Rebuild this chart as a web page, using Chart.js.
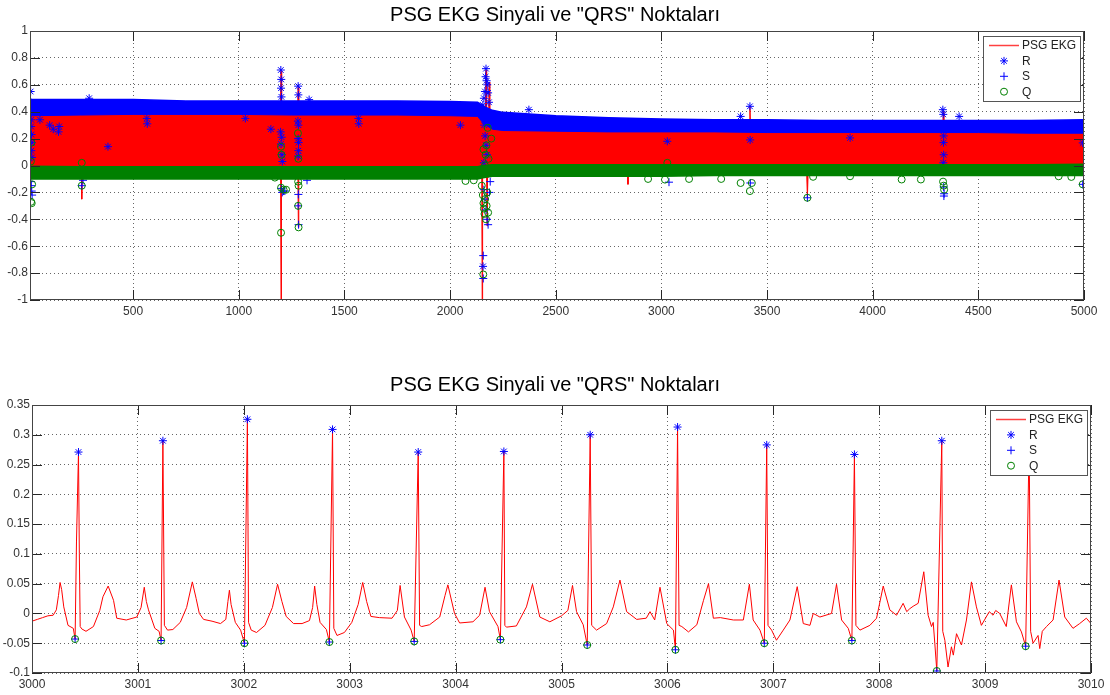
<!doctype html>
<html>
<head>
<meta charset="utf-8" />
<title>PSG EKG Sinyali ve "QRS" Noktaları</title>
<script src="https://cdn.jsdelivr.net/npm/chart.js"></script>
<style>
  html, body { margin: 0; padding: 0; background: #fff; }
  #wrap { position: relative; width: 1110px; height: 695px; }
  #topBox { position: absolute; left: 0; top: 0; width: 1110px; height: 347px; }
  #botBox { position: absolute; left: 0; top: 347px; width: 1110px; height: 348px; }
</style>
</head>
<body>
<div id="wrap">
  <div id="topBox"><canvas id="topChart" width="1110" height="347"></canvas></div>
  <div id="botBox"><canvas id="botChart" width="1110" height="348"></canvas></div>
</div>

<script>
  const chartTitle = 'PSG EKG Sinyali ve "QRS" Noktaları';
  const legendNames = ['PSG EKG', 'R', 'S', 'Q'];

  const topXTicks = [500, 1000, 1500, 2000, 2500, 3000, 3500, 4000, 4500, 5000];
  const topYTicks = [-1, -0.8, -0.6, -0.4, -0.2, 0, 0.2, 0.4, 0.6, 0.8, 1];
  const botXTicks = [3000, 3001, 3002, 3003, 3004, 3005, 3006, 3007, 3008, 3009, 3010];
  const botYTicks = [-0.1, -0.05, 0, 0.05, 0.1, 0.15, 0.2, 0.25, 0.3, 0.35];

  // ---- ust grafik: tum kayit (zarf degerleri) ----
  const bandX    = [12, 250, 500, 750, 1000, 1250, 1500, 1750, 2000, 2130, 2160, 2200, 2250, 2500, 2750, 3000, 3250, 3500, 3750, 4000, 4250, 4500, 4750, 5000];
  const rBandHi  = [0.49, 0.49, 0.49, 0.48, 0.48, 0.48, 0.48, 0.48, 0.475, 0.47, 0.44, 0.41, 0.395, 0.37, 0.355, 0.345, 0.34, 0.34, 0.335, 0.335, 0.335, 0.335, 0.335, 0.34];
  const rBandLo  = [0.37, 0.375, 0.38, 0.38, 0.38, 0.375, 0.375, 0.375, 0.37, 0.365, 0.31, 0.27, 0.26, 0.255, 0.25, 0.25, 0.25, 0.245, 0.245, 0.245, 0.245, 0.245, 0.24, 0.24];
  const qBandHi  = [-0.005, -0.01, -0.01, -0.01, -0.01, -0.01, -0.01, -0.01, -0.01, -0.01, 0.0, 0.005, 0.005, 0.005, 0.005, 0.005, 0.005, 0.005, 0.005, 0.005, 0.005, 0.005, 0.005, 0.01];
  const qBandLo  = [-0.10, -0.10, -0.10, -0.10, -0.10, -0.10, -0.10, -0.10, -0.10, -0.10, -0.09, -0.08, -0.08, -0.08, -0.08, -0.08, -0.075, -0.075, -0.075, -0.075, -0.075, -0.075, -0.075, -0.075];

  const sigHiX = [12, 1197, 1200, 1203, 1278, 1281, 1284, 2130, 2160, 2167, 2170, 2173, 2182, 2185, 2188, 2200, 2250, 3416, 3419, 3422, 4331, 4334, 4337, 5000];
  const sigHiY = [0.39, 0.39, 0.70, 0.39, 0.39, 0.58, 0.39, 0.385, 0.33, 0.33, 0.71, 0.30, 0.29, 0.62, 0.28, 0.28, 0.27, 0.26, 0.44, 0.26, 0.26, 0.40, 0.26, 0.255];
  const sigLoX = [12, 255, 257, 259, 1198, 1200, 1202, 1280, 1282, 1284, 2150, 2152, 2154, 2173, 2175, 2177, 2200, 2840, 2842, 2844, 3688, 3691, 3694, 5000];
  const sigLoY = [-0.09, -0.09, -0.25, -0.09, -0.09, -1, -0.09, -0.09, -0.46, -0.09, -0.09, -1, -0.09, -0.09, -0.45, -0.09, -0.07, -0.07, -0.14, -0.07, -0.07, -0.24, -0.07, -0.07];

  const rOutX = [15, 16, 17, 18, 17, 19, 20, 18, 21, 59, 105, 122, 147, 150, 292, 381, 565, 567, 1031, 1152,
                 1199, 1201, 1200, 1202, 1198, 1203, 1200, 1204, 1206,
                 1281, 1282, 1280, 1282, 1281, 1283, 1282, 1281, 1333, 1566, 1568, 2049,
                 2155, 2160, 2165, 2168, 2170, 2173, 2176, 2180, 2184, 2158, 2162, 2166, 2170, 2175, 2160, 2178, 2156,
                 2373, 2530, 3028, 3375, 3419, 3420, 3893, 4332, 4334, 4336, 4335, 4336, 4334, 4409, 4994];
  const rOutY = [0.55, 0.47, 0.41, 0.34, 0.29, 0.23, 0.17, 0.11, 0.06, 0.34, 0.30, 0.27, 0.25, 0.29, 0.50, 0.14, 0.35, 0.31, 0.35, 0.27,
                 0.71, 0.64, 0.575, 0.51, 0.25, 0.21, 0.16, 0.08, 0.03,
                 0.59, 0.525, 0.33, 0.30, 0.20, 0.17, 0.11, 0.07, 0.49, 0.35, 0.31, 0.30,
                 0.45, 0.50, 0.55, 0.66, 0.72, 0.63, 0.60, 0.54, 0.47, 0.36, 0.30, 0.22, 0.15, 0.08, 0.02, -0.05, -0.75,
                 0.415, 0.31, 0.18, 0.365, 0.44, 0.19, 0.205, 0.415, 0.38, 0.22, 0.17, 0.08, 0.02, 0.365, 0.168];

  const sOutX = [16, 18, 20, 22, 263, 257, 1201, 1206, 1212, 1218, 1282, 1281, 1283, 1323, 2157, 2157, 2165, 2170, 2175, 2180, 2160, 2186, 2190, 3036, 3421, 3691, 4336, 4338, 4337, 4994];
  const sOutY = [-0.12, -0.15, -0.19, -0.22, -0.11, -0.15, -0.17, -0.20, -0.19, -0.19, -0.215, -0.30, -0.44, -0.11, -0.67, -0.84, -0.25, -0.33, -0.40, -0.44, -0.18, -0.20, -0.12, -0.124, -0.13, -0.24, -0.16, -0.21, -0.227, -0.14];

  const qOutX = [17, 20, 16, 22, 19, 257, 257, 1171, 1200, 1202, 1200, 1200, 1212, 1224, 1280, 1282, 1281, 1283, 1281, 1283,
                 2073, 2112, 2150, 2155, 2158, 2160, 2163, 2166, 2170, 2173, 2176, 2180, 2165, 2168, 2172, 2178, 2182, 2188, 2195, 2158, 2157,
                 2937, 3017, 3028, 3131, 3283, 3375, 3419, 3428, 3691, 3718, 3893, 4137, 4228, 4333, 4336, 4338, 4880, 4940, 4994];
  const qOutY = [-0.27, -0.28, 0.03, -0.14, 0.17, -0.15, 0.02, -0.09, 0.14, 0.08, -0.165, -0.50, -0.18, -0.18, 0.24, 0.05, -0.12, -0.15, -0.30, -0.46,
                 -0.115, -0.11, -0.15, -0.22, -0.28, -0.32, -0.36, -0.25, -0.40, -0.30, -0.20, -0.35, 0.00, 0.08, 0.15, 0.28, 0.05, -0.05, 0.20, 0.12, -0.81,
                 -0.10, -0.105, 0.02, -0.10, -0.10, -0.13, -0.19, -0.13, -0.24, -0.084, -0.08, -0.104, -0.104, -0.12, -0.15, -0.18, -0.08, -0.085, -0.14];

  // ---- alt grafik: 3000-3010 araligi ----
  const ekgT = [3000.00, 3000.05, 3000.10, 3000.15, 3000.20, 3000.23, 3000.25, 3000.265, 3000.28, 3000.30, 3000.34, 3000.39, 3000.407, 3000.42, 3000.439, 3000.447, 3000.455, 3000.47, 3000.51, 3000.58, 3000.64, 3000.67, 3000.719, 3000.77, 3000.80, 3000.89, 3000.99,
    3001.03, 3001.06, 3001.08, 3001.10, 3001.16, 3001.20, 3001.219, 3001.236, 3001.25, 3001.28, 3001.33, 3001.40, 3001.46, 3001.514, 3001.55, 3001.58, 3001.62, 3001.70, 3001.78, 3001.83,
    3001.85, 3001.864, 3001.88, 3001.92, 3001.97, 3002.006, 3002.034, 3002.045, 3002.07, 3002.12, 3002.20, 3002.27, 3002.319, 3002.36, 3002.40, 3002.47, 3002.55, 3002.62, 3002.65,
    3002.669, 3002.69, 3002.72, 3002.78, 3002.808, 3002.838, 3002.85, 3002.88, 3002.95, 3003.02, 3003.08, 3003.123, 3003.16, 3003.20, 3003.28, 3003.40, 3003.45,
    3003.476, 3003.517, 3003.58, 3003.609, 3003.647, 3003.66, 3003.68, 3003.754, 3003.85, 3003.90, 3003.927, 3003.99, 3004.038, 3004.164, 3004.227,
    3004.278, 3004.32, 3004.40, 3004.423, 3004.456, 3004.465, 3004.48, 3004.574, 3004.669, 3004.726, 3004.795, 3004.89, 3005.00, 3005.06,
    3005.104, 3005.142, 3005.205, 3005.243, 3005.271, 3005.285, 3005.331, 3005.426, 3005.489, 3005.552, 3005.615, 3005.71, 3005.80, 3005.836, 3005.88,
    3005.93, 3005.994, 3006.057, 3006.076, 3006.096, 3006.11, 3006.136, 3006.199, 3006.278, 3006.341, 3006.388, 3006.434, 3006.50, 3006.623, 3006.717,
    3006.774, 3006.81, 3006.874, 3006.915, 3006.938, 3006.95, 3006.984, 3007.03, 3007.094, 3007.157, 3007.226, 3007.283, 3007.346, 3007.377, 3007.44, 3007.55,
    3007.597, 3007.645, 3007.708, 3007.742, 3007.766, 3007.78, 3007.818, 3007.912, 3007.975, 3008.038, 3008.10, 3008.164, 3008.226, 3008.26, 3008.289, 3008.32, 3008.368,
    3008.421, 3008.462, 3008.494, 3008.51, 3008.525, 3008.544, 3008.591, 3008.60, 3008.62, 3008.65, 3008.682, 3008.70, 3008.73, 3008.777, 3008.824, 3008.871, 3008.918, 3008.965, 3009.01, 3009.04, 3009.075, 3009.10, 3009.138, 3009.20,
    3009.248, 3009.296, 3009.343, 3009.383, 3009.416, 3009.43, 3009.453, 3009.50, 3009.516, 3009.54, 3009.58, 3009.642, 3009.698, 3009.752, 3009.83, 3009.893, 3009.956, 3010.00];
  const ekgV = [-0.013, -0.010, -0.007, -0.004, -0.003, 0.006, 0.030, 0.052, 0.040, 0.011, -0.020, -0.025, -0.043, 0.12, 0.271, 0.10, -0.022, -0.026, -0.030, -0.022, 0.005, 0.028, 0.046, 0.022, -0.008, -0.011, -0.006,
    0.010, 0.044, 0.020, 0.006, -0.025, -0.030, -0.0455, 0.290, -0.020, -0.028, -0.027, -0.015, 0.010, 0.053, 0.025, 0.000, -0.010, -0.013, -0.017, -0.010,
    0.020, 0.039, 0.015, -0.015, -0.028, -0.050, 0.326, -0.015, -0.028, -0.032, -0.020, 0.010, 0.049, 0.020, -0.005, -0.017, -0.017, -0.012, 0.010,
    0.046, 0.015, -0.015, -0.027, -0.048, 0.309, -0.025, -0.037, -0.032, -0.015, 0.015, 0.052, 0.020, -0.005, -0.007, -0.008, 0.005,
    0.047, -0.006, -0.028, -0.047, 0.271, -0.020, -0.022, -0.019, -0.006, 0.030, 0.048, 0.000, -0.016, -0.014, -0.003,
    0.044, 0.003, -0.022, -0.044, 0.272, -0.020, -0.023, -0.021, 0.011, 0.049, -0.006, -0.014, -0.004, 0.005,
    0.047, 0.003, -0.019, -0.053, 0.300, -0.020, -0.028, -0.017, 0.011, 0.056, 0.003, -0.010, -0.008, 0.003, -0.011,
    0.044, -0.017, -0.028, -0.061, 0.313, -0.020, -0.022, -0.031, -0.019, 0.022, 0.050, -0.008, -0.007, -0.011, -0.011,
    0.049, -0.011, -0.028, -0.050, 0.283, -0.020, -0.028, -0.045, -0.028, -0.011, 0.045, -0.017, -0.020, 0.000, -0.006, 0.000,
    0.049, -0.011, -0.025, -0.0455, 0.267, -0.020, -0.028, -0.020, -0.008, 0.046, 0.006, -0.003, 0.017, 0.003, 0.008, 0.012, 0.017,
    0.070, -0.003, -0.022, -0.015, -0.050, -0.0966, 0.290, -0.030, -0.045, -0.090, -0.056, -0.070, -0.034, -0.053, -0.011, 0.053, 0.011, -0.020, -0.006, 0.003, -0.003, 0.005, 0.000, -0.022,
    0.048, -0.014, -0.031, -0.055, 0.290, -0.030, -0.050, -0.037, -0.059, -0.030, -0.022, -0.011, 0.056, -0.006, -0.025, -0.017, -0.008, -0.017];

  const rT = [3000.439, 3001.236, 3002.034, 3002.838, 3003.647, 3004.456, 3005.271, 3006.096, 3006.938, 3007.766, 3008.591, 3009.416];
  const rV = [0.271, 0.290, 0.326, 0.309, 0.271, 0.272, 0.300, 0.313, 0.283, 0.267, 0.290, 0.290];
  const sT = [3000.407, 3001.219, 3002.006, 3002.808, 3003.609, 3004.423, 3005.243, 3006.076, 3006.915, 3007.742, 3008.544, 3009.383];
  const sV = [-0.043, -0.0455, -0.050, -0.048, -0.047, -0.044, -0.053, -0.061, -0.050, -0.0455, -0.0966, -0.055];
  const qT = [3000.407, 3001.219, 3002.006, 3002.808, 3003.609, 3004.423, 3005.243, 3006.076, 3006.915, 3007.742, 3008.544, 3009.383];
  const qV = [-0.043, -0.0455, -0.050, -0.048, -0.047, -0.044, -0.053, -0.061, -0.050, -0.0455, -0.0966, -0.055];

  const RED = '#ff0000', BLUE = '#0000ff', GREEN = '#008000';
  const FONT = '"Liberation Sans", Arial, sans-serif';

  function pts(xs, ys) { return xs.map((x, i) => ({ x: x, y: ys[i] })); }

  function drawMark(ctx, kind, cx, cy, r) {
    ctx.beginPath();
    if (kind === 'circle') {
      ctx.arc(cx, cy, r, 0, Math.PI * 2);
    } else {
      ctx.moveTo(cx - r, cy); ctx.lineTo(cx + r, cy);
      ctx.moveTo(cx, cy - r); ctx.lineTo(cx, cy + r);
      if (kind === 'star') {
        const d = r * 0.7;
        ctx.moveTo(cx - d, cy - d); ctx.lineTo(cx + d, cy + d);
        ctx.moveTo(cx - d, cy + d); ctx.lineTo(cx + d, cy - d);
      }
    }
    ctx.stroke();
  }

  // matlab tarzi cerceve, ice dogru tikler ve legend kutusu
  const matlabFrame = {
    id: 'matlabFrame',
    afterDatasetsDraw(chart) {
      const { ctx, chartArea: a, scales: { x, y } } = chart;
      const len = 10;
      ctx.save();
      ctx.strokeStyle = '#262626';
      ctx.lineWidth = 1;
      ctx.beginPath();
      x.ticks.forEach(t => {
        const px = Math.round(x.getPixelForValue(t.value)) + 0.5;
        ctx.moveTo(px, a.bottom); ctx.lineTo(px, a.bottom - len);
        ctx.moveTo(px, a.top); ctx.lineTo(px, a.top + len);
      });
      y.ticks.forEach(t => {
        const py = Math.round(y.getPixelForValue(t.value)) + 0.5;
        ctx.moveTo(a.left, py); ctx.lineTo(a.left + len, py);
        ctx.moveTo(a.right, py); ctx.lineTo(a.right - len, py);
      });
      ctx.stroke();
      ctx.strokeStyle = '#444';
      ctx.strokeRect(Math.round(a.left) + 0.5, Math.round(a.top) + 0.5, Math.round(a.width) - 1, Math.round(a.height) - 1);

      // legend
      const bw = 97, bh = 65;
      const bx = Math.round(a.right) - 4 - bw, by = Math.round(a.top) + 5;
      ctx.fillStyle = '#fff';
      ctx.fillRect(bx, by, bw, bh);
      ctx.strokeStyle = '#555';
      ctx.strokeRect(bx + 0.5, by + 0.5, bw, bh);
      ctx.font = '12px ' + FONT;
      ctx.textBaseline = 'middle';
      ctx.textAlign = 'left';
      legendNames.forEach((name, i) => {
        const ry = by + 9.5 + i * 15.4;
        ctx.lineWidth = 1;
        if (i === 0) {
          ctx.strokeStyle = '#ff4040';
          ctx.lineWidth = 1.5;
          ctx.beginPath(); ctx.moveTo(bx + 6, ry); ctx.lineTo(bx + 36, ry); ctx.stroke();
        } else if (i === 1) {
          ctx.strokeStyle = BLUE; drawMark(ctx, 'star', bx + 21, ry, 4);
        } else if (i === 2) {
          ctx.strokeStyle = BLUE; drawMark(ctx, 'cross', bx + 21, ry, 4);
        } else {
          ctx.strokeStyle = GREEN; drawMark(ctx, 'circle', bx + 21, ry, 3.5);
        }
        ctx.fillStyle = '#222';
        ctx.fillText(name, bx + 39, ry + 0.5);
      });
      ctx.restore();
    }
  };

  function numLabel(v) { return String(+(+v).toFixed(2)); }

  function makeOptions(o) {
    return {
      responsive: false,
      animation: false,
      events: [],
      layout: { padding: 0 },
      plugins: {
        legend: { display: false },
        tooltip: { enabled: false },
        title: {
          display: true,
          text: chartTitle,
          color: '#000',
          font: { family: FONT, size: 20, weight: 'normal' },
          padding: { top: o.titleTop, bottom: o.titleBottom }
        }
      },
      scales: {
        x: {
          type: 'linear',
          min: o.xMin, max: o.xMax,
          afterFit: s => { s.height = o.xHeight; },
          afterBuildTicks: s => { s.ticks = o.xTicks.map(v => ({ value: v })); },
          grid: { color: 'rgba(0,0,0,0.6)', lineWidth: 1, drawTicks: false },
          border: { display: false, dash: [1, 3] },
          ticks: { padding: 4, color: '#333', font: { family: FONT, size: 12 }, maxRotation: 0, autoSkip: false, callback: v => String(v) }
        },
        y: {
          type: 'linear',
          min: o.yMin, max: o.yMax,
          afterFit: s => { s.width = o.yWidth; },
          afterBuildTicks: s => { s.ticks = o.yTicks.map(v => ({ value: v })); },
          grid: { color: 'rgba(0,0,0,0.6)', lineWidth: 1, drawTicks: false },
          border: { display: false, dash: [1, 3] },
          ticks: { padding: 2, color: '#333', font: { family: FONT, size: 12 }, autoSkip: false, callback: numLabel }
        },
        // sag bosluk icin bos eksen (baslik tuval ortasinda kalsin)
        yR: {
          type: 'linear',
          position: 'right',
          afterFit: s => { s.width = o.padRight; },
          grid: { display: false },
          border: { display: false },
          ticks: { display: false }
        }
      }
    };
  }

  function lineSet(data, color, width, fill, order) {
    return { type: 'line', data: data, borderColor: color, backgroundColor: color, borderWidth: width, pointRadius: 0, fill: fill, order: order, tension: 0 };
  }
  function markSet(data, style, color, r, order) {
    return { type: 'scatter', data: data, pointStyle: style, pointRadius: r, borderColor: color, backgroundColor: 'rgba(0,0,0,0)', pointBorderWidth: 1, showLine: false, order: order };
  }

  new Chart(document.getElementById('topChart'), {
    type: 'scatter',
    data: {
      datasets: [
        lineSet(pts(sigHiX, sigHiY), RED, 1, '+1', 40),
        lineSet(pts(sigLoX, sigLoY), RED, 1, false, 40),
        lineSet(pts(bandX, rBandHi), BLUE, 1.5, '+1', 30),
        lineSet(pts(bandX, rBandLo), BLUE, 1, false, 30),
        markSet(pts(rOutX, rOutY), 'star', BLUE, 4, 20),
        markSet(pts(sOutX, sOutY), 'cross', BLUE, 4, 10),
        lineSet(pts(bandX, qBandHi), GREEN, 1.5, '+1', 5),
        lineSet(pts(bandX, qBandLo), GREEN, 1.5, false, 5),
        markSet(pts(qOutX, qOutY), 'circle', GREEN, 3.5, 0)
      ]
    },
    options: makeOptions({ xMin: 12, xMax: 5000, xTicks: topXTicks, yMin: -1, yMax: 1, yTicks: topYTicks,
                           yWidth: 30, xHeight: 47, padRight: 26, titleTop: 3, titleBottom: 4 }),
    plugins: [matlabFrame]
  });

  new Chart(document.getElementById('botChart'), {
    type: 'scatter',
    data: {
      datasets: [
        lineSet(pts(ekgT, ekgV), RED, 1, false, 30),
        markSet(pts(rT, rV), 'star', BLUE, 4, 20),
        markSet(pts(sT, sV), 'cross', BLUE, 4, 10),
        markSet(pts(qT, qV), 'circle', GREEN, 3.5, 0)
      ]
    },
    options: makeOptions({ xMin: 3000, xMax: 3010, xTicks: botXTicks, yMin: -0.1, yMax: 0.35, yTicks: botYTicks,
                           yWidth: 32, xHeight: 22, padRight: 19, titleTop: 26, titleBottom: 8 }),
    plugins: [matlabFrame]
  });
</script>
</body>
</html>
